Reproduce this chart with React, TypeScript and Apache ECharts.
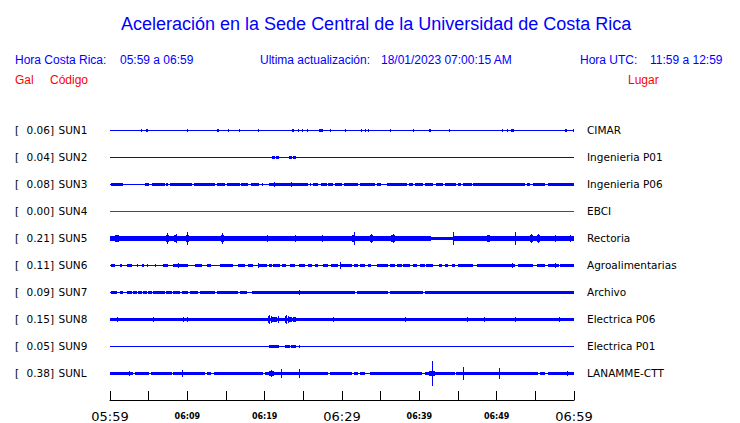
import React, { useEffect, useRef } from "react";
import * as echarts from "echarts";

// ---- Data ----
const stations = ["SUN1", "SUN2", "SUN3", "SUN4", "SUN5", "SUN6", "SUN7", "SUN8", "SUN9", "SUNL"];
const galValues = [0.06, 0.04, 0.08, 0.0, 0.21, 0.11, 0.09, 0.15, 0.05, 0.38];
const places = [
  "CIMAR",
  "Ingenieria P01",
  "Ingenieria P06",
  "EBCI",
  "Rectoria",
  "Agroalimentarias",
  "Archivo",
  "Electrica P06",
  "Electrica P01",
  "LANAMME-CTT",
];
// background half-amplitude of every trace (Gal)
const baseAmps = [0, 0, 0, 0, 0.05, 0, 0, 0.055, 0, 0];
// minutes after 05:59 of each axis tick
const tickLabels = ["05:59", "06:04", "06:09", "06:14", "06:19", "06:24", "06:29", "06:34", "06:39", "06:44", "06:49", "06:54", "06:59"];
const shownTicks = ["05:59", "06:09", "06:19", "06:29", "06:39", "06:49", "06:59"];
const bigTicks = ["05:59", "06:29", "06:59"];

// events: [start minute, end minute, half amplitude in Gal]
const sun1Events = [
  [4.0, 4.0, 0.04], [4.6, 4.9, 0.05], [6.9, 6.9, 0.03], [7.2, 7.4, 0.03], [10.0, 10.0, 0.04], [11.2, 11.2, 0.03],
  [12.0, 12.0, 0.03], [12.2, 12.2, 0.03], [13.8, 14.1, 0.05], [15.3, 15.3, 0.04], [16.7, 16.7, 0.04], [19.2, 19.2, 0.04],
  [22.1, 22.1, 0.03], [23.5, 23.8, 0.05], [24.3, 24.3, 0.04], [24.8, 24.8, 0.04], [25.5, 25.5, 0.04], [27.0, 27.5, 0.06],
  [28.5, 28.5, 0.04], [30.4, 30.4, 0.04], [32.5, 32.5, 0.04], [33.0, 33.0, 0.04], [33.4, 33.4, 0.04], [34.7, 34.7, 0.03],
  [36.2, 36.2, 0.04], [39.2, 39.2, 0.04], [41.2, 41.5, 0.05], [43.9, 43.9, 0.04], [48.9, 48.9, 0.03], [50.7, 50.7, 0.04],
  [51.4, 51.4, 0.04], [51.9, 52.3, 0.05], [57.8, 57.8, 0.03], [58.8, 59.1, 0.05], [59.5, 59.5, 0.03], [59.9, 59.9, 0.05],
];
const sun2Events = [
  [9.6, 9.6, 0.03], [21.0, 21.4, 0.04], [21.5, 21.9, 0.04], [23.2, 23.5, 0.035], [23.7, 24.0, 0.04],
];
const sun3Events = [
  [0.1, 1.7, 0.05], [2.3, 2.3, 0.03], [2.8, 2.8, 0.03], [3.3, 3.3, 0.03], [3.6, 3.6, 0.03], [4.0, 4.0, 0.03],
  [4.5, 5.0, 0.04], [5.4, 7.1, 0.05], [7.3, 7.5, 0.04], [7.8, 10.6, 0.05], [10.8, 13.6, 0.05], [13.8, 14.9, 0.05],
  [15.1, 16.8, 0.05], [17.0, 17.9, 0.05], [18.2, 19.3, 0.05], [19.6, 19.6, 0.04], [20.5, 25.6, 0.05], [20.9, 21.6, 0.06],
  [21.2, 21.2, 0.08], [23.4, 23.4, 0.07], [25.9, 25.9, 0.04], [26.3, 26.9, 0.05], [27.3, 28.0, 0.05], [28.2, 28.9, 0.05],
  [29.1, 30.0, 0.05], [30.2, 32.1, 0.05], [32.3, 34.3, 0.05], [34.5, 35.0, 0.05], [35.8, 38.4, 0.05], [38.6, 39.2, 0.05],
  [39.4, 40.5, 0.05], [40.7, 41.8, 0.05], [42.2, 43.1, 0.05], [43.3, 44.8, 0.05], [45.0, 45.4, 0.05], [45.7, 46.8, 0.05],
  [47.0, 53.7, 0.05], [53.9, 54.3, 0.05], [54.7, 56.3, 0.05], [56.7, 60, 0.05],
];
const sun4Events: number[][] = [];
const sun5Events = [
  [0, 41.5, 0.068], [44.3, 60, 0.068],
  [0.6, 1.2, 0.11], [7.2, 7.6, 0.1], [8.3, 8.7, 0.1], [9.8, 10.2, 0.1], [14.3, 14.7, 0.1], [20.1, 20.5, 0.09],
  [23.7, 24.1, 0.09], [27.2, 27.6, 0.09], [31.3, 31.7, 0.1], [33.6, 34.0, 0.11], [36.4, 36.8, 0.1], [44.3, 44.5, 0.08],
  [48.7, 49.1, 0.1], [52.2, 52.6, 0.09], [54.3, 54.7, 0.1], [55.2, 55.6, 0.1], [57.3, 57.7, 0.09], [59.3, 59.7, 0.09],
  [7.4, 7.4, 0.17], [8.5, 8.5, 0.13], [10.0, 10.0, 0.21], [14.5, 14.5, 0.17], [20.3, 20.3, 0.12], [23.9, 23.9, 0.12],
  [27.4, 27.4, 0.11], [31.5, 31.5, 0.19], [33.8, 33.8, 0.15], [36.6, 36.6, 0.14], [44.4, 44.4, 0.19], [48.9, 48.9, 0.12],
  [52.4, 52.4, 0.19], [54.5, 54.5, 0.13], [55.4, 55.4, 0.14], [57.5, 57.5, 0.11], [59.5, 59.5, 0.1],
];
const sun6Events = [
  [0.1, 0.6, 0.04], [1.3, 1.5, 0.04], [2.15, 2.8, 0.04], [3.45, 3.66, 0.04], [4.2, 4.45, 0.04], [4.75, 4.95, 0.04],
  [5.8, 6.0, 0.04], [6.9, 7.5, 0.04], [8.2, 10.1, 0.045], [11.0, 11.85, 0.04], [12.5, 13.1, 0.04], [14.2, 15.95, 0.045],
  [16.6, 17.4, 0.04], [17.9, 18.5, 0.04], [19.1, 20.3, 0.045], [20.6, 20.9, 0.04], [21.1, 22.0, 0.04], [22.2, 22.8, 0.04],
  [23.3, 23.9, 0.04], [24.4, 25.2, 0.04], [25.6, 26.1, 0.04], [26.5, 26.9, 0.04], [27.6, 28.2, 0.04], [28.6, 29.5, 0.045],
  [29.7, 31.3, 0.045], [31.6, 32.1, 0.04], [32.3, 33.0, 0.04], [33.4, 33.8, 0.04], [34.5, 36.0, 0.04], [36.2, 36.8, 0.04],
  [37.1, 37.7, 0.04], [37.9, 38.8, 0.04], [39.2, 39.7, 0.04], [40.1, 40.7, 0.04], [40.9, 41.8, 0.04], [42.5, 42.9, 0.04],
  [43.3, 43.7, 0.04], [44.2, 44.6, 0.04], [45.0, 47.0, 0.04], [47.4, 51.7, 0.04], [51.7, 52.4, 0.055], [52.8, 54.7, 0.04],
  [55.2, 56.3, 0.04], [56.7, 58.0, 0.04], [58.2, 60, 0.04],
  [2.5, 2.5, 0.06], [7.3, 7.3, 0.06], [8.8, 8.8, 0.07], [9.7, 9.7, 0.06], [15.5, 15.5, 0.06], [19.2, 19.2, 0.08],
  [22.4, 22.4, 0.06], [29.7, 29.7, 0.11], [52.0, 52.0, 0.08], [57.5, 57.5, 0.07],
];
const sun7Events = [
  [0.13, 0.86, 0.045], [1.3, 1.7, 0.045], [2.15, 2.8, 0.045], [3.0, 3.45, 0.045], [3.66, 4.1, 0.045], [4.3, 4.74, 0.045],
  [4.96, 5.4, 0.045], [5.6, 7.1, 0.045], [7.3, 8.0, 0.045], [8.2, 9.05, 0.045], [9.3, 10.1, 0.045], [10.3, 11.4, 0.045],
  [11.6, 13.6, 0.045], [13.8, 16.6, 0.045], [16.8, 17.7, 0.045], [18.3, 31.7, 0.045], [31.9, 36.0, 0.045],
  [36.2, 40.5, 0.045], [40.7, 60, 0.045],
  [21.4, 21.4, 0.04], [24.5, 24.5, 0.09], [27.7, 27.7, 0.06], [41.2, 41.2, 0.06], [44.4, 44.4, 0.05], [47.7, 47.7, 0.05],
  [49.0, 49.0, 0.05], [54.9, 54.9, 0.05], [56.7, 56.7, 0.05], [57.5, 57.5, 0.05],
];
const sun8Events = [
  [20.4, 20.5, 0.12], [20.6, 20.7, 0.15], [20.8, 20.9, 0.1], [21.0, 21.6, 0.08], [21.7, 21.8, 0.11],
  [22.6, 22.7, 0.1], [22.8, 22.9, 0.15], [23.0, 23.1, 0.12], [23.2, 23.5, 0.08], [23.6, 24.1, 0.07],
  [0.95, 0.95, 0.08], [5.6, 5.6, 0.08], [9.4, 9.4, 0.07], [9.9, 9.9, 0.07], [12.2, 12.2, 0.06], [12.9, 12.9, 0.06],
  [28.8, 28.8, 0.07], [38.1, 38.1, 0.07], [46.2, 46.2, 0.07], [48.4, 48.4, 0.07], [52.4, 52.4, 0.07], [58.1, 58.1, 0.07],
];
const sun9Events = [
  [0, 0, 0.02], [5.6, 5.6, 0.03], [9.6, 9.6, 0.03], [9.8, 9.8, 0.02], [12.9, 13.1, 0.03], [20.5, 21.8, 0.045],
  [22.6, 23.3, 0.04], [23.4, 24.0, 0.045], [24.4, 24.4, 0.04], [28.8, 28.8, 0.02], [48.4, 48.4, 0.02],
];
const sunlEvents = [
  [0, 3.0, 0.045], [3.2, 5.0, 0.045], [5.3, 8.0, 0.045], [8.2, 12.3, 0.045], [12.5, 13.1, 0.045], [13.4, 19.8, 0.045],
  [20.0, 28.2, 0.045], [28.4, 31.3, 0.045], [31.5, 32.1, 0.045], [32.3, 33.0, 0.045], [33.6, 40.3, 0.045],
  [40.7, 44.6, 0.045], [44.8, 55.4, 0.045], [55.6, 56.3, 0.045], [56.7, 60, 0.045],
  [41.2, 42.0, 0.07], [20.5, 21.2, 0.07], [22.0, 22.4, 0.06],
  [2.46, 2.46, 0.07], [3.66, 3.66, 0.05], [9.27, 9.27, 0.1], [15.4, 15.4, 0.06], [20.8, 20.8, 0.1], [22.1, 22.1, 0.13],
  [24.5, 24.5, 0.13], [36.2, 36.2, 0.05], [37.2, 37.2, 0.05], [38.2, 38.2, 0.05], [41.6, 41.6, 0.38], [45.7, 45.7, 0.21],
  [50.3, 50.3, 0.17], [59.1, 59.1, 0.07],
];
const stationEvents = [
  sun1Events, sun2Events, sun3Events, sun4Events, sun5Events,
  sun6Events, sun7Events, sun8Events, sun9Events, sunlEvents,
];

// ---- Display constants ----
const ROW = 27; // y units between traces
const GAIN = 32; // y units per Gal
const BLUE = "#0000ff";
const RED = "#ff0000";
const SANS = "Liberation Sans, Arial, sans-serif";
const DEJAVU = "DejaVu Sans, sans-serif";

export default function App() {
  const ref = useRef<HTMLDivElement>(null);

  useEffect(() => {
    if (!ref.current) return;
    const chart = echarts.init(ref.current, null, { renderer: "svg" });

    const rowValue = (row: number) => (10 - row) * ROW;

    const series = stations.map((name, row) => {
      const items = [[row, 0, 60, baseAmps[row]], ...stationEvents[row].map((e) => [row, e[0], e[1], e[2]])];
      const color = galValues[row] === 0 ? RED : BLUE;
      return {
        type: "custom",
        name,
        coordinateSystem: "cartesian2d",
        encode: { x: [1, 2], y: 0 },
        silent: true,
        data: items,
        renderItem: (_params: any, api: any) => {
          const r = api.value(0);
          const t0 = api.value(1);
          const t1 = api.value(2);
          const amp = api.value(3);
          const yv = rowValue(r);
          const p0 = api.coord([t0, yv]);
          const p1 = api.coord([t1, yv]);
          const h = Math.abs(api.size([0, amp * GAIN])[1]);
          const half = Math.max(h, 0.5);
          const c = Math.round(p0[1]) + 0.5;
          const top = Math.round(c - half);
          let bottom = Math.round(c + half);
          if (bottom <= top) bottom = top + 1;
          const x0 = Math.round(p0[0]);
          const w = Math.max(1, Math.round(p1[0]) - x0);
          return {
            type: "rect",
            shape: { x: x0, y: top, width: w, height: bottom - top },
            style: { fill: color },
          };
        },
      };
    });

    const yLabelBase = {
      fontFamily: DEJAVU,
      fontSize: 10.5,
      color: "#000",
    };

    chart.setOption({
      animation: false,
      backgroundColor: "#fff",
      title: {
        text: "Aceleración en la Sede Central de la Universidad de Costa Rica",
        left: 116,
        top: 10,
        textStyle: { fontFamily: SANS, fontSize: 18, fontWeight: "normal", color: BLUE },
      },
      graphic: [
        { type: "text", left: 15, top: 54, style: { text: "Hora Costa Rica:", font: `12px ${SANS}`, fill: BLUE } },
        { type: "text", left: 120, top: 54, style: { text: "05:59 a 06:59", font: `12px ${SANS}`, fill: BLUE } },
        { type: "text", left: 260, top: 54, style: { text: "Ultima actualización:", font: `12px ${SANS}`, fill: BLUE } },
        { type: "text", left: 381, top: 54, style: { text: "18/01/2023 07:00:15 AM", font: `12px ${SANS}`, fill: BLUE } },
        { type: "text", left: 580, top: 54, style: { text: "Hora UTC:", font: `12px ${SANS}`, fill: BLUE } },
        { type: "text", left: 650, top: 54, style: { text: "11:59 a 12:59", font: `12px ${SANS}`, fill: BLUE } },
        { type: "text", left: 15, top: 74, style: { text: "Gal", font: `12px ${SANS}`, fill: RED } },
        { type: "text", left: 50, top: 74, style: { text: "Código", font: `12px ${SANS}`, fill: RED } },
        { type: "text", left: 628, top: 74, style: { text: "Lugar", font: `12px ${SANS}`, fill: RED } },
      ],
      grid: { left: 110, right: 166, top: 103, bottom: 23, containLabel: false, outerBoundsMode: "none" },
      xAxis: {
        type: "value",
        min: 0,
        max: 60,
        interval: 5,
        offset: 9,
        axisLine: { show: true, lineStyle: { color: "#000", width: 1 } },
        axisTick: { show: true, inside: true, length: 9, lineStyle: { color: "#000" } },
        splitLine: { show: false },
        axisLabel: {
          margin: 1,
          showMinLabel: true,
          showMaxLabel: true,
          formatter: (v: number) => {
            const lab = tickLabels[Math.round(v / 5)] || "";
            if (!shownTicks.includes(lab)) return "";
            return bigTicks.includes(lab) ? `{big|${lab}}` : `{small|${lab}}`;
          },
          rich: {
            big: { fontFamily: DEJAVU, fontSize: 13, lineHeight: 13, color: "#000" },
            small: { fontFamily: DEJAVU, fontSize: 8, lineHeight: 13, fontWeight: "bold", color: "#000" },
          },
        },
      },
      yAxis: [
        {
          type: "value",
          position: "left",
          min: 0,
          max: 297,
          interval: ROW,
          axisLine: { show: false },
          axisTick: { show: false },
          splitLine: { show: false },
          axisLabel: {
            ...yLabelBase,
            align: "left",
            margin: 95,
            formatter: (v: number) => {
              const row = 10 - Math.round(v / ROW);
              if (row < 0 || row > 9) return "";
              return `{br|[}{val|${galValues[row].toFixed(2)}]}{code|${stations[row]}}`;
            },
            rich: {
              br: { ...yLabelBase, width: 11.5 },
              val: { ...yLabelBase, width: 32 },
              code: { ...yLabelBase },
            },
          },
        },
        {
          type: "value",
          position: "right",
          min: 0,
          max: 297,
          interval: ROW,
          axisLine: { show: false },
          axisTick: { show: false },
          splitLine: { show: false },
          axisLabel: {
            ...yLabelBase,
            align: "left",
            margin: 13,
            formatter: (v: number) => {
              const row = 10 - Math.round(v / ROW);
              if (row < 0 || row > 9) return "";
              return places[row];
            },
          },
        },
      ],
      series,
    });

    return () => chart.dispose();
  }, []);

  return (
    <div
      ref={ref}
      style={{ position: "fixed", left: 0, top: 0, width: 740, height: 423, background: "#fff" }}
    />
  );
}
